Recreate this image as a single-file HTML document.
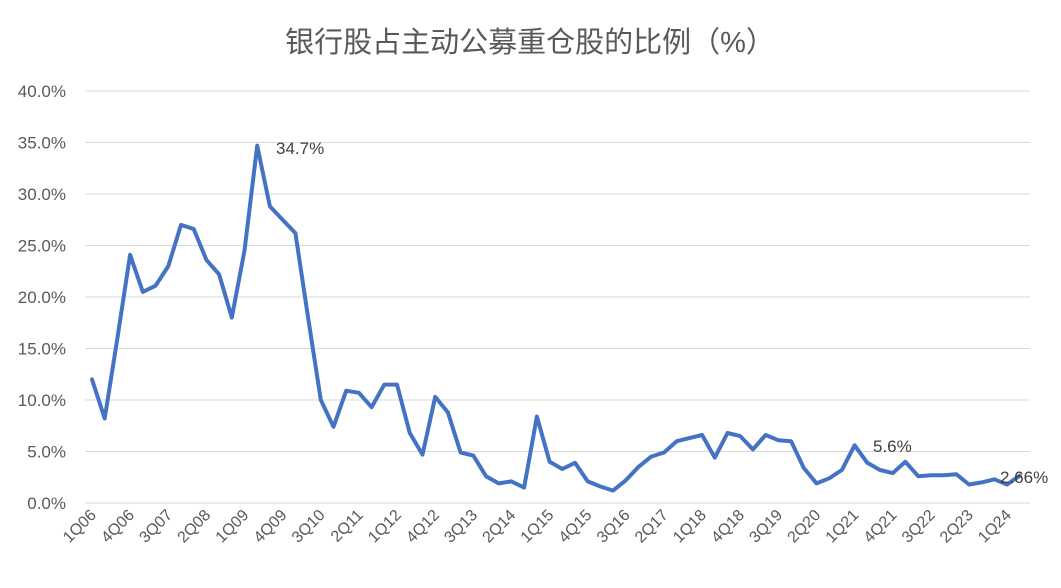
<!DOCTYPE html>
<html><head><meta charset="utf-8"><style>
html,body{margin:0;padding:0;background:#fff;}
svg text{font-family:"Liberation Sans","Noto Sans CJK SC",sans-serif;}
</style></head><body>
<svg width="1061" height="583" viewBox="0 0 1061 583" xmlns="http://www.w3.org/2000/svg">
<rect width="1061" height="583" fill="#fff"/>
<text x="530" y="52" text-anchor="middle" font-size="29" fill="#595959">银行股占主动公募重仓股的比例（%）</text>
<g id="grid" stroke="#d9d9d9" stroke-width="1"></g>
<g id="ylab" font-size="17" fill="#595959" text-anchor="end"></g>
<g id="xlab" font-size="16" fill="#595959"></g>
<polyline id="line" fill="none" stroke="#4472c4" stroke-width="4" stroke-linejoin="round" stroke-linecap="round"/>
<text x="276" y="154" font-size="17" fill="#404040">34.7%</text>
<text x="873" y="452" font-size="17" fill="#404040">5.6%</text>
<text x="1000" y="483" font-size="17" fill="#404040">2.66%</text>
</svg>
<script>
var ns="http://www.w3.org/2000/svg";
var y0=503,k=10.3,x0=92,dx=12.71;
var g=document.getElementById('grid'),yl=document.getElementById('ylab'),xl=document.getElementById('xlab');
for(var i=0;i<=8;i++){var y=y0-i*5*k;
var l=document.createElementNS(ns,'line');l.setAttribute('x1',85);l.setAttribute('x2',1030);l.setAttribute('y1',y);l.setAttribute('y2',y);g.appendChild(l);
var t=document.createElementNS(ns,'text');t.setAttribute('x',66);t.setAttribute('y',y+6);t.textContent=(i*5).toFixed(1)+'%';yl.appendChild(t);}
var d=[12.0,8.2,16,24.1,20.5,21.1,23.0,27.0,26.6,23.6,22.2,18.0,24.5,34.7,28.8,27.5,26.2,18,10.0,7.4,10.9,10.7,9.3,11.5,11.5,6.8,4.7,10.3,8.8,4.9,4.6,2.6,1.9,2.1,1.5,8.4,4.0,3.3,3.9,2.1,1.6,1.2,2.2,3.5,4.5,4.9,6.0,6.3,6.6,4.4,6.8,6.5,5.2,6.6,6.1,6.0,3.4,1.9,2.4,3.2,5.6,3.9,3.2,2.9,4.0,2.6,2.7,2.7,2.8,1.8,2.0,2.3,1.8,2.66];
var p=d.map(function(v,i){return (x0+i*dx).toFixed(1)+','+(y0-v*k).toFixed(1)}).join(' ');
document.getElementById('line').setAttribute('points',p);
for(var i=0;i<d.length;i+=3){var q=(i%4)+1,yr=6+Math.floor(i/4);
var lab=q+'Q'+(yr<10?'0':'')+yr;var x=x0+i*dx+5,y=516;
var t=document.createElementNS(ns,'text');t.setAttribute('x',x);t.setAttribute('y',y);t.setAttribute('text-anchor','end');
t.setAttribute('transform','rotate(-45 '+x+' '+y+')');t.textContent=lab;xl.appendChild(t);}
</script>
</body></html>
